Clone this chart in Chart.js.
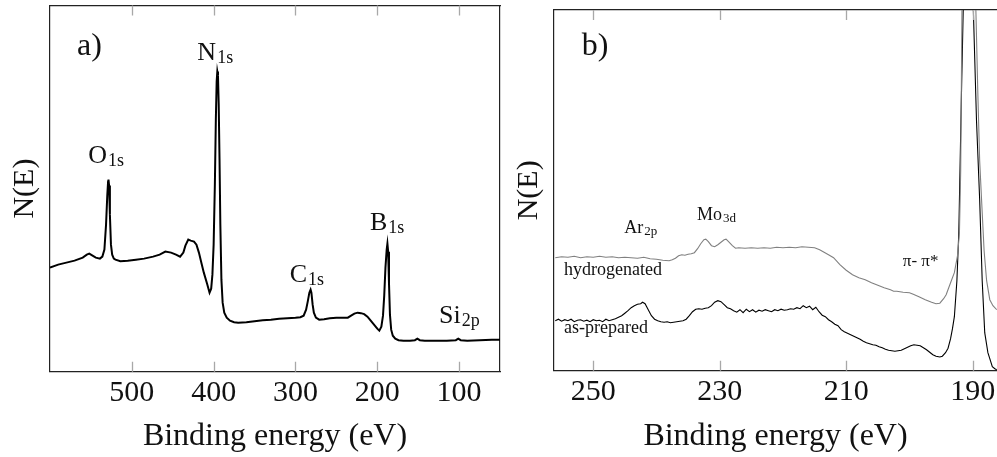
<!DOCTYPE html>
<html><head><meta charset="utf-8">
<script src="https://cdn.jsdelivr.net/npm/chart.js@4/dist/chart.umd.min.js"></script>
<style>
html,body{margin:0;padding:0;background:#fff;overflow:hidden;width:997px;height:457px;position:relative;}
#ca{position:absolute;left:0;top:0;}
#cb{position:absolute;left:510px;top:0;}
</style></head><body>
<canvas id="ca" width="520" height="457"></canvas>
<canvas id="cb" width="490" height="457"></canvas>
<script>
// ---------- Panel a) survey spectrum ----------
const A_ENERGY = [600,590,580,570,560,555,552,548,544,539,536,533.5,531.5,530,529,528.5,527.8,526.8,525.5,524,522,520,514,505,495,485,474,466,459,452,446,441,437,434.5,431,428,424,421,418,415,412,408,405,403,401.5,400,398.5,397.3,396.3,395.5,394.7,393.8,392.8,391.8,390.5,389,387,384,380,375,370,360,350,340,330,320,310,300,294,290,287,285,283,281.5,280.5,279,277.5,275,271,265,258,250,242,236,232,228,224,220,216,212,208,204,200,197.5,195,193,191.5,190,188.5,187.6,186.7,185.7,184.5,183,181,178,174,168,160,154,151,148,142,130,115,104,101,98,90,75,60,50];
const A_INTENSITY = [104,107,109,111,114,117,118,116,114,113,115,122,147,176,190,192,186,157,127,117,113,112,110.5,111,112,113,115,117,120,119,117,115,119,126,132,131,130,127,119,109,99,88,79,83,97,127,187,252,290,300,296,267,212,147,92,69,59,54,51,49.5,49,49.5,50.5,51.5,52,53,53.5,54,54.5,56,62,70,79,82,79,67,59,54,52,52.5,53.5,54,54,54,56,58,59,58.5,57.5,55,51,47,43,41,45,56,76,104,122,128,120,89,57,42,36,33,31.5,31,31,31.5,33,31.5,31,31,31,31.5,33,31.5,31,31.5,32,32];
const A_TICKS = [500,400,300,200,100];
const A_XRANGE = [50,600];
const A_YRANGE = [0,366];
const A_LABEL_TEXT = ['a)','N','O','C','B','Si'];
const A_LABEL_SUB  = ['','1s','1s','1s','1s','2p'];
const A_LABEL_E    = [566.9,419.9,553.4,307.1,209,124.5];
const A_LABEL_I    = [317,312,209,90,142,49];
const A_LABEL_SIZE = [32,26,26,26,26,26];

// ---------- Panel b) detail spectra ----------
const B_GRAY_E = [256,255,254,253,252,251,250,249,248,247,246,245,244,243,242,241,240,239,238,237.5,237,236.5,236,235.5,235,234.5,234,233.5,233,232.5,232.2,231.8,231.3,230.8,230.3,229.8,229.3,229,228.6,228,227.5,227,226,225,224,223,222,221,220,219,218,217,216,215,214.2,213.5,212.8,212,211,210,209,208,207,206,205,204,203,202.5,202,201,200,199.4,198.5,197.5,196.5,195.8,195.2,194.6,194.2,193.5,192.9,192.4,192.1,191.9,191.7,191.5,190.6,189.5,189.2,188.9,188.6,188.2,187.8,187.3,186.8,186.2];
const B_GRAY_I = [113,114,113.5,114.5,113,114,113.5,114.5,113.5,114,113,113.5,113,112.5,113.5,112,111.5,110.5,110,111,112.5,115,116,115.5,116.5,117,118,122,127,131,131.5,129,125,124,126,128.5,131,131.5,129,125,122.5,123,122.5,123,122.5,123,122.5,123.5,123,123.5,123,124,123.5,123,121,118.5,116,113,106,100.5,96,93,91,88,85.5,83,81,79.5,79.5,78.5,78,76.5,74,71,68.5,67,67.5,72,76,88,98,115,138,200,361,420,1000,361,280,210,171,120,90,71,65,61];
const B_BLACK_E = [256,255.5,255,254.5,254,253.5,253,252.5,252,251.5,251,250.5,250,249.5,249,248.5,248,247.5,247,246.5,246,245.5,245,244.5,244,243.5,243,242.5,242.2,241.8,241.3,240.8,240.3,239.8,239.3,238.8,238.3,237.8,237.3,236.8,236.3,235.8,235.3,234.8,234.3,233.8,233.3,232.8,232.3,231.8,231.3,230.8,230.3,229.8,229.3,228.8,228.3,227.8,227.3,226.8,226.3,225.8,225.3,224.8,224.3,223.8,223.3,222.8,222.3,221.8,221.3,220.8,220.3,219.8,219.3,218.8,218.3,217.8,217.3,216.8,216.3,215.8,215.3,214.8,214.3,213.8,213.3,212.8,212.3,211.8,211.3,210.8,210.3,209.8,209.3,208.8,208.3,207.8,207.3,206.8,206.3,205.8,205.3,204.8,204.3,203.8,203.3,202.8,202.3,201.8,201.3,200.8,200.3,199.8,199.3,198.8,198.3,197.8,197.3,196.8,196.3,195.8,195.2,194.8,194.3,193.9,193.5,193.2,192.9,192.5,192.2,191.8,191.5,191.2,190.7,190.2,189.9,189.4,188.9,188.5,188.1,187.6,187.2,186.9,186.5,186.2];
const B_BLACK_I = [50,51.5,49.5,51,50,51.5,49,50.5,51,49.5,50.5,49,51,50,50.5,49,51.5,50,51,52,53.5,55,57.5,60,63,65,66.5,67,68.5,67,61,55,51.5,50,49,48.5,49,48,48.5,49,49.5,50,51.5,55,59,61.5,62,61.5,62.5,63,65,68.5,70,69,66,63,62,60,58.5,61,58,61.5,59,61,58.5,60.5,59.5,61,60,59,61,60,61.5,60.5,61,62,61.5,63,62,65,63,64.5,61,63.5,59,55.5,54,51,49,46.5,45,41,39,37.5,36,34.5,33,31.5,29.5,28,27,26,25.5,24,23,21.5,20.5,20,19.5,20,20.5,22,23.5,25,26,25.5,25,23,21,18.5,16,14.5,13.7,14.5,18,22.5,32,42,54,90,138,271,361,500,1000,500,361,250,171,90,38,18,10,4,2,1];
const B_TICKS = [250,230,210,190];
const B_XRANGE = [186.16,256.2];
const B_YRANGE = [0,360.7];
const B_LABEL_TEXT = ['b)','Ar','Mo','hydrogenated','as-prepared','\u03c0- \u03c0*'];
const B_LABEL_SUB  = ['','2p','3d','','',''];
const B_LABEL_E    = [251.8,245.1,233.6,254.6,254.6,201.05];
const B_LABEL_I    = [316,137.7,151,96,37.7,104.3];
const B_LABEL_SIZE = [32,18,18,18,18,17];

const SERIF = "'Liberation Serif', 'Times New Roman', serif";
const INK = '#111';

function toXY(es, is){ return es.map((e,i)=>({x:e, y:is[i]})); }

function labelPlugin(texts, subs, es, is, sizes){
  return {
    id:'peakLabels',
    afterDatasetsDraw(chart){
      const ctx = chart.ctx, xs = chart.scales.x, ys = chart.scales.y;
      ctx.save();
      ctx.fillStyle = INK;
      ctx.textAlign = 'left';
      ctx.textBaseline = 'alphabetic';
      texts.forEach((t,i)=>{
        const px = xs.getPixelForValue(es[i]);
        const py = ys.getPixelForValue(is[i]);
        const size = sizes[i];
        ctx.font = size + 'px ' + SERIF;
        ctx.fillText(t, px, py);
        if (subs[i]) {
          const w = ctx.measureText(t).width;
          const ss = Math.round(size*0.7);
          ctx.font = ss + 'px ' + SERIF;
          ctx.fillText(subs[i], px + w + 1, py + size*0.12);
        }
      });
      ctx.restore();
    }
  };
}

// inward tick marks on bottom and top edges, placed through the x scale
const innerTicks = {
  id:'innerTicks',
  afterDraw(chart){
    const ctx = chart.ctx, xs = chart.scales.x, a = chart.chartArea;
    ctx.save();
    ctx.strokeStyle = '#a8a8a8';
    ctx.lineWidth = 1.3;
    xs.ticks.forEach(t=>{
      const px = Math.round(xs.getPixelForValue(t.value)) + 0.5;
      ctx.beginPath();
      ctx.moveTo(px, a.bottom); ctx.lineTo(px, a.bottom - 10);
      ctx.moveTo(px, a.top); ctx.lineTo(px, a.top + 10);
      ctx.stroke();
    });
    ctx.restore();
  }
};

function buildChart(canvasId, datasets, opt){
  const tickFont = {family:SERIF, size:30};
  const noPad = s=>{ s.paddingLeft = 0; s.paddingRight = 0; s.paddingTop = 0; s.paddingBottom = 0; };
  return new Chart(document.getElementById(canvasId), {
    type:'line',
    data:{datasets},
    options:{
      responsive:false,
      animation:false,
      events:[],
      layout:{padding:{left:0,right:opt.padRight,top:0,bottom:0}},
      plugins:{legend:{display:false}, tooltip:{enabled:false}},
      elements:{point:{radius:0}, line:{tension:0}},
      scales:{
        x:{type:'linear', position:'bottom', reverse:true, min:opt.xr[0], max:opt.xr[1],
           afterBuildTicks:s=>{ s.ticks = opt.ticks.map(v=>({value:v})); },
           ticks:{font:tickFont, color:INK, padding:3, maxRotation:0, autoSkip:false, callback:v=>String(v)},
           grid:{display:false, drawOnChartArea:false, drawTicks:false},
           border:{display:true, color:'#222', width:1.2},
           title:{display:true, text:'Binding energy (eV)', font:{family:SERIF, size:32}, color:INK, padding:{top:0,bottom:1}},
           afterFit:s=>{ s.height = 457 - opt.bottom; noPad(s); }},
        x2:{type:'linear', position:'top', reverse:true, min:opt.xr[0], max:opt.xr[1],
           ticks:{display:false},
           grid:{display:false, drawTicks:false},
           border:{display:true, color:'#222', width:1.2},
           afterFit:s=>{ s.height = opt.top; noPad(s); }},
        y:{type:'linear', position:'left', min:opt.yr[0], max:opt.yr[1],
           ticks:{display:false}, grid:{display:false, drawTicks:false},
           border:{display:true, color:'#222', width:1.2},
           title:{display:true, text:'N(E)', font:{family:SERIF, size:30}, color:INK, padding:{top:opt.yTitlePad,bottom:0}},
           afterFit:s=>{ s.width = opt.left; noPad(s); }},
        ...(opt.rightBorder ? {y2:{type:'linear', position:'right', min:opt.yr[0], max:opt.yr[1],
           ticks:{display:false}, grid:{display:false, drawTicks:false},
           border:{display:true, color:'#222', width:1.2},
           afterFit:s=>{ s.width = opt.rightW; noPad(s); }}} : {})
      }
    },
    plugins:[innerTicks, opt.labels]
  });
}

buildChart('ca', [
  {label:'survey', data:toXY(A_ENERGY, A_INTENSITY), borderColor:'#000', borderWidth:2, fill:false}
], {xr:A_XRANGE, yr:A_YRANGE, ticks:A_TICKS, top:5.5, bottom:371.7, left:50, padRight:0, rightBorder:true, rightW:20, yTitlePad:7,
    labels:labelPlugin(A_LABEL_TEXT, A_LABEL_SUB, A_LABEL_E, A_LABEL_I, A_LABEL_SIZE)});

buildChart('cb', [
  {label:'hydrogenated', data:toXY(B_GRAY_E, B_GRAY_I), borderColor:'#808080', borderWidth:1.1, fill:false},
  {label:'as-prepared', data:toXY(B_BLACK_E, B_BLACK_I), borderColor:'#000', borderWidth:1.1, fill:false}
], {xr:B_XRANGE, yr:B_YRANGE, ticks:B_TICKS, top:10, bottom:370.7, left:44, padRight:3, rightBorder:false, yTitlePad:1.5,
    labels:labelPlugin(B_LABEL_TEXT, B_LABEL_SUB, B_LABEL_E, B_LABEL_I, B_LABEL_SIZE)});
</script>
</body></html>
